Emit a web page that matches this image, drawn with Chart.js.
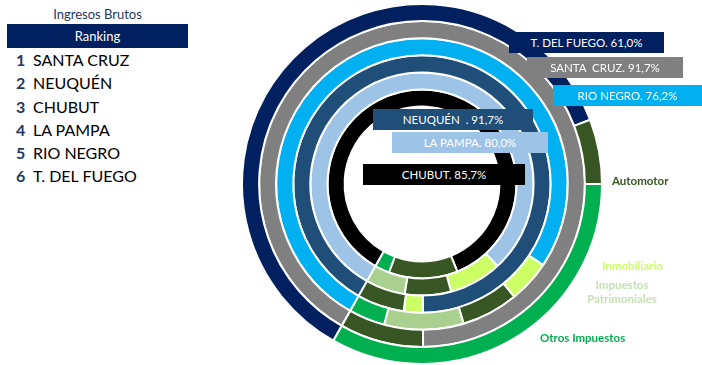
<!DOCTYPE html>
<html><head><meta charset="utf-8">
<script src="https://cdn.jsdelivr.net/npm/chart.js@4"></script>
<style>
html,body{margin:0;padding:0;background:#fff;width:702px;height:365px;overflow:hidden;font-family:Lato,"Open Sans",sans-serif;}
#wrap{position:absolute;left:241px;top:3px;width:362px;height:362px;}
.box{position:absolute;height:21px;display:flex;align-items:center;justify-content:center;color:#fff;font-size:11.5px;white-space:pre;}
.cat{position:absolute;font-weight:bold;font-size:11.5px;white-space:nowrap;line-height:14px;}
#title{position:absolute;left:7px;width:181px;top:6px;text-align:center;color:#1F3864;font-size:13px;}
#rankbar{position:absolute;left:7px;top:24px;width:181px;height:24px;background:#002060;color:#fff;font-size:13px;display:flex;align-items:center;justify-content:center;}
.rk{position:absolute;left:16px;font-size:16px;line-height:20px;color:#000;white-space:nowrap;}
.rk b{color:#1F3864;display:inline-block;width:17px;}
</style></head><body>
<div id="title"></div>
<div id="rankbar">Ranking</div>
<div id="ranklist"></div>
<div id="wrap"><canvas id="c"></canvas></div>
<div id="labels"></div>
<script>
// ---- data ----
const provinces = ['T. DEL FUEGO', 'SANTA CRUZ', 'RIO NEGRO', 'NEUQUÉN', 'LA PAMPA', 'CHUBUT'];
const provinceLabelText = ['T. DEL FUEGO', 'SANTA  CRUZ', 'RIO NEGRO', 'NEUQUÉN  ', 'LA PAMPA', 'CHUBUT'];
const categories = ['Ingresos Brutos', 'Inmobiliario', 'Automotor', 'Impuestos Patrimoniales', 'Otros Impuestos'];
const ingresosBrutos   = [61.0, 91.7, 76.2, 91.7, 80.0, 85.7];
const inmobiliario     = [0.0, 0.0, 4.7, 2.4, 7.6, 0.0];
const automotor        = [5.8, 8.3, 6.3, 5.9, 6.7, 11.8];
const impPatrimoniales = [0.0, 0.0, 8.8, 0.0, 5.7, 0.0];
const otrosImpuestos   = [33.2, 0.0, 4.0, 0.0, 0.0, 2.5];
const rankingTitle = 'Ingresos Brutos';
const ranking = ['SANTA CRUZ', 'NEUQUÉN', 'CHUBUT', 'LA PAMPA', 'RIO NEGRO', 'T. DEL FUEGO'];

// ---- styles ----
const ringColors = ['#002060', '#808080', '#00B0F0', '#1F4E79', '#9DC3E6', '#000000'];
const catColors = {'Inmobiliario':'#CCFF66','Automotor':'#375623','Impuestos Patrimoniales':'#A9D08E','Otros Impuestos':'#00B050'};
const catTextColors = {'Inmobiliario':'#CCFF66','Automotor':'#375623','Impuestos Patrimoniales':'#C5E0B4','Otros Impuestos':'#00B050'};

const datasets = provinces.map((p, i) => ({
  label: p,
  data: [ingresosBrutos[i], inmobiliario[i], automotor[i], impPatrimoniales[i], otrosImpuestos[i]],
  backgroundColor: [ringColors[i]].concat(categories.slice(1).map(c => catColors[c])),
  borderColor: '#ffffff',
  borderWidth: 2
}));

new Chart(document.getElementById('c'), {
  type: 'doughnut',
  data: { labels: categories, datasets },
  options: {
    responsive: true, maintainAspectRatio: false, animation: false,
    rotation: 209.5, cutout: '43%',
    layout: { padding: 0 },
    plugins: { legend: { display: false }, tooltip: { enabled: false } }
  }
});

// ---- text ----
document.getElementById('title').textContent = rankingTitle;
const rl = document.getElementById('ranklist');
const rankY = [50, 73, 97, 120, 143, 166];
ranking.forEach((r, i) => {
  const d = document.createElement('div');
  d.className = 'rk'; d.style.top = rankY[i] + 'px';
  d.innerHTML = '<b>' + (i + 1) + '</b>' + r;
  rl.appendChild(d);
});

const fmt = v => v.toFixed(1).replace('.', ',') + '%';
const boxPos = [[509, 32, 155], [527, 57, 156], [553, 85, 149], [373, 109, 160], [392, 132, 156], [363, 164, 162]];
const lab = document.getElementById('labels');
provinces.forEach((p, i) => {
  const d = document.createElement('div');
  d.className = 'box';
  d.style.left = boxPos[i][0] + 'px'; d.style.top = boxPos[i][1] + 'px'; d.style.width = boxPos[i][2] + 'px';
  d.style.background = ringColors[i];
  d.textContent = provinceLabelText[i] + '. ' + fmt(ingresosBrutos[i]);
  lab.appendChild(d);
});
const catPos = {'Automotor':[612,174,'left'],'Inmobiliario':[602,259,'left'],'Impuestos Patrimoniales':[622,278,'center'],'Otros Impuestos':[540,331,'left']};
categories.slice(1).forEach(c => {
  const d = document.createElement('div');
  d.className = 'cat';
  d.style.color = catTextColors[c];
  const [x, y, al] = catPos[c];
  d.style.top = y + 'px';
  if (al === 'center') {
    d.style.left = (x - 60) + 'px'; d.style.width = '120px'; d.style.textAlign = 'center';
    d.innerHTML = c.replace(' ', '<br>');
  } else { d.style.left = x + 'px'; d.textContent = c; }
  lab.appendChild(d);
});
</script>
</body></html>
